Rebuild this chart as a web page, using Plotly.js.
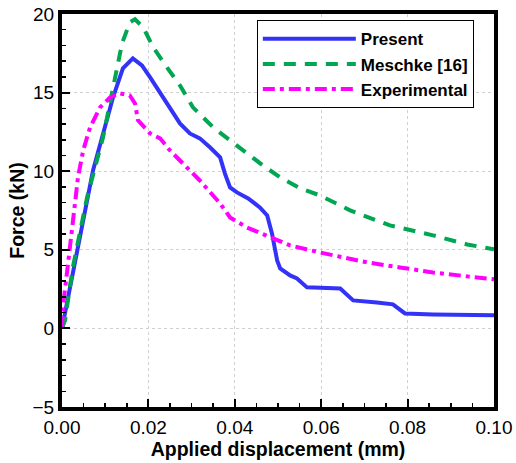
<!DOCTYPE html>
<html>
<head>
<meta charset="utf-8">
<script src="https://cdn.plot.ly/plotly-3.0.1.min.js"></script>
<style>html,body{margin:0;padding:0;background:#fff;}#chart{width:516px;height:463px;}</style>
</head>
<body>
<div id="chart"></div>
<script>
const presentX = [0, 0.00718, 0.0118, 0.0141, 0.0164, 0.0185, 0.0204, 0.0227, 0.0250, 0.0273, 0.0296, 0.0319, 0.0343, 0.0366, 0.0377, 0.0389, 0.0405, 0.0431, 0.0458, 0.0475, 0.0486, 0.0498, 0.0505, 0.0528, 0.0544, 0.0567, 0.0644, 0.0674, 0.0729, 0.0766, 0.0794, 0.0836, 0.0859, 0.1];
const presentY = [0, 10.05, 14.69, 16.54, 17.18, 16.73, 15.97, 15.01, 14.06, 13.04, 12.40, 12.09, 11.51, 10.88, 9.86, 8.97, 8.65, 8.27, 7.70, 7.19, 6.04, 4.33, 3.82, 3.37, 3.18, 2.61, 2.54, 1.78, 1.65, 1.53, 0.95, 0.95, 0.89, 0.83];

const meschkeX = [0, 0.0007, 0.0025, 0.0058, 0.0095, 0.0123, 0.0139, 0.0157, 0.0169, 0.0188, 0.0211, 0.0243, 0.0273, 0.0303, 0.0350, 0.0389, 0.0428, 0.0465, 0.0505, 0.0551, 0.0597, 0.0667, 0.0759, 0.0859, 0.0938, 0.1];
const meschkeY = [0, 0.51, 3.88, 8.33, 12.15, 15.78, 18.13, 19.47, 19.66, 19.15, 17.88, 16.60, 15.46, 14.06, 12.79, 11.96, 11.13, 10.37, 9.61, 8.91, 8.46, 7.51, 6.55, 5.92, 5.34, 5.03];

const expX = [0, 0.0002, 0.0014, 0.0025, 0.0037, 0.0049, 0.0065, 0.0088, 0.0111, 0.0134, 0.0157, 0.0169, 0.0176, 0.0204, 0.0227, 0.0250, 0.0280, 0.0319, 0.0366, 0.0389, 0.0428, 0.0481, 0.0528, 0.0597, 0.0706, 0.0782, 0.0859, 0.0938, 0.1];
const expY = [0, 1.34, 4.13, 6.68, 9.61, 11.32, 12.79, 14.06, 14.69, 14.95, 14.82, 14.31, 13.23, 12.40, 12.09, 11.32, 10.50, 9.41, 7.95, 7.06, 6.42, 5.79, 5.28, 4.83, 4.20, 3.88, 3.56, 3.31, 3.12];

const seriesNames = ['Present', 'Meschke [16]', 'Experimental'];
const xTickVals = [0, 0.02, 0.04, 0.06, 0.08, 0.1];
const xTickText = ['0.00', '0.02', '0.04', '0.06', '0.08', '0.10'];
const yTickVals = [-5, 0, 5, 10, 15, 20];

const font = 'Liberation Sans, Arial, sans-serif';

const traces = [
  {x: presentX, y: presentY, name: seriesNames[0], mode: 'lines',
   line: {color: '#3333f8', width: 4, dash: 'solid'}},
  {x: meschkeX, y: meschkeY, name: seriesNames[1], mode: 'lines',
   line: {color: '#00a651', width: 4, dash: '12px,9px'}},
  {x: expX, y: expY, name: seriesNames[2], mode: 'lines',
   line: {color: '#ff00ff', width: 4, dash: '12px,5px,4px,5px'}}
];

const axisCommon = {
  showline: true, linewidth: 4, linecolor: '#000', mirror: true,
  ticks: 'inside', ticklen: 8, tickwidth: 2, tickcolor: '#000',
  zeroline: false, showgrid: true, gridcolor: '#d0d0d0', griddash: 'dot', gridwidth: 1,
  tickfont: {family: font, size: 19, color: '#000'}
};

const layout = {
  width: 516, height: 463,
  margin: {l: 62, r: 22, t: 14, b: 56},
  paper_bgcolor: '#fff', plot_bgcolor: '#fff',
  showlegend: true,
  legend: {x: 0.451, y: 0.984, xanchor: 'left', yanchor: 'top',
    bordercolor: '#000', borderwidth: 1, bgcolor: '#fff',
    font: {family: font, size: 17, color: '#000', weight: 'bold'},
    itemwidth: 93, tracegroupgap: 0},
  xaxis: Object.assign({}, axisCommon, {
    range: [0, 0.1], tickvals: xTickVals, ticktext: xTickText,
    minor: {dtick: 0.005, ticks: 'inside', ticklen: 4, tickwidth: 1.5, tickcolor: '#000', showgrid: false},
    title: {text: '<b>Applied displacement (mm)</b>', font: {family: font, size: 19.5, color: '#000'}, standoff: 2}
  }),
  yaxis: Object.assign({}, axisCommon, {
    range: [-5, 20], tickvals: yTickVals,
    minor: {dtick: 1, ticks: 'inside', ticklen: 4, tickwidth: 1.5, tickcolor: '#000', showgrid: false},
    title: {text: '<b>Force (kN)</b>', font: {family: font, size: 19.5, color: '#000'}, standoff: 4}
  })
};

Plotly.newPlot('chart', traces, layout, {displayModeBar: false, staticPlot: true});
</script>
</body>
</html>
